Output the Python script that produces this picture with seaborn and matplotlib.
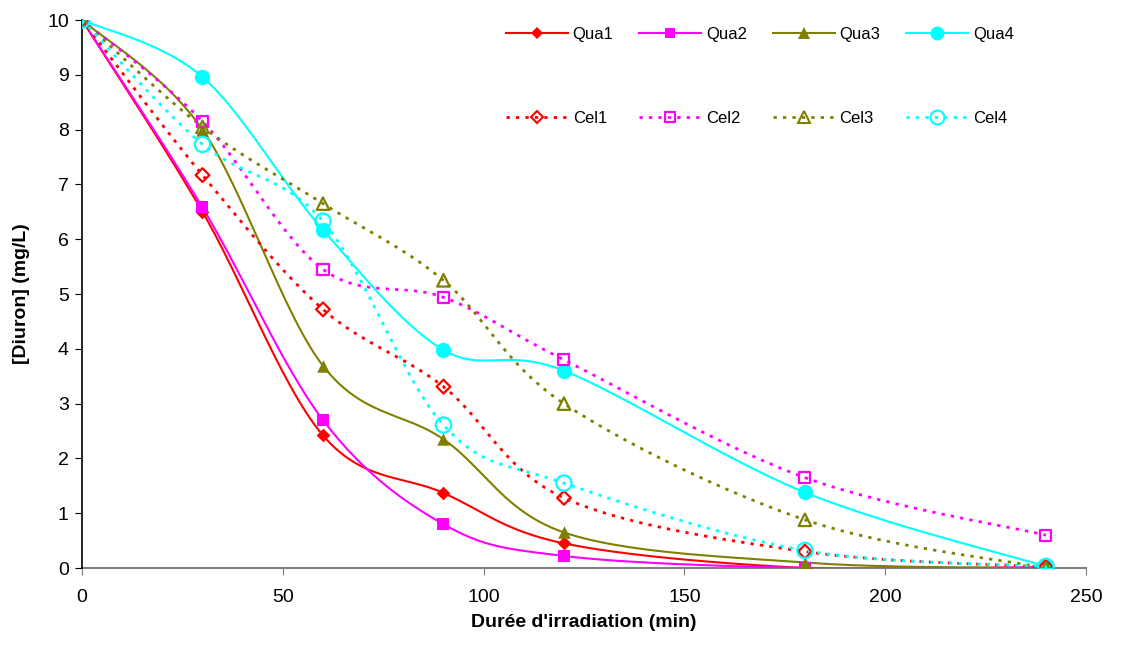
import numpy as np
import pandas as pd
import matplotlib
matplotlib.use("Agg")
import matplotlib.pyplot as plt
from matplotlib.lines import Line2D
import seaborn as sns

# irradiation times (min)
time = [0, 30, 60, 90, 120, 180, 240]

# [Diuron] (mg/L)
qua1 = [10, 6.50, 2.42, 1.37, 0.45, 0.00, 0.00]
qua2 = [10, 6.58, 2.70, 0.80, 0.22, 0.00, 0.02]
qua3 = [10, 8.00, 3.69, 2.35, 0.65, 0.10, 0.00]
qua4 = [10, 8.96, 6.17, 3.98, 3.60, 1.38, 0.03]
cel1 = [10, 7.17, 4.72, 3.31, 1.28, 0.30, 0.02]
cel2 = [10, 8.15, 5.45, 4.94, 3.80, 1.65, 0.60]
cel3 = [10, 8.05, 6.65, 5.25, 3.00, 0.88, 0.00]
cel4 = [10, 7.73, 6.33, 2.61, 1.55, 0.32, 0.03]

series = {"Qua1": qua1, "Qua2": qua2, "Qua3": qua3, "Qua4": qua4,
          "Cel1": cel1, "Cel2": cel2, "Cel3": cel3, "Cel4": cel4}

colors = {"1": "#FF0000", "2": "#FF00FF", "3": "#808000", "4": "#00FFFF"}
markers = {"1": "D", "2": "s", "3": "^", "4": "o"}
msize = {"1": 7, "2": 8, "3": 9, "4": 11}


def smooth(x, y, n=30):
    # Excel-style smoothed line: cubic Bezier through the points (Catmull-Rom)
    x = np.asarray(x, float)
    y = np.asarray(y, float)
    px = np.concatenate([[x[0]], x, [x[-1]]])
    py = np.concatenate([[y[0]], y, [y[-1]]])
    xs, ys = [], []
    t = np.linspace(0, 1, n)
    for i in range(1, len(px) - 2):
        p0 = np.array([px[i], py[i]])
        p3 = np.array([px[i + 1], py[i + 1]])
        p1 = p0 + (np.array([px[i + 1], py[i + 1]]) - np.array([px[i - 1], py[i - 1]])) / 6
        p2 = p3 - (np.array([px[i + 2], py[i + 2]]) - np.array([px[i], py[i]])) / 6
        b = ((1 - t) ** 3)[:, None] * p0 + (3 * (1 - t) ** 2 * t)[:, None] * p1 \
            + (3 * (1 - t) * t ** 2)[:, None] * p2 + (t ** 3)[:, None] * p3
        xs.extend(b[:, 0])
        ys.extend(b[:, 1])
    return xs, ys


plt.rcParams["font.family"] = ["Liberation Sans", "DejaVu Sans"]
fig, ax = plt.subplots(figsize=(11.39, 6.46), dpi=100)
fig.subplots_adjust(left=0.072, right=0.9535, top=0.969, bottom=0.1207)

handles = {}
for name, vals in series.items():
    k = name[-1]
    solid = name.startswith("Qua")
    sx, sy = smooth(time, vals)
    ls = "-" if solid else (0, (1.2, 2.2))
    lw = 1.5 if solid else 2.0
    ax.plot(sx, sy, color=colors[k], lw=lw, ls=ls, zorder=2)
    df = pd.DataFrame({"t": time, "c": vals})
    sns.scatterplot(data=df, x="t", y="c", ax=ax, marker=markers[k],
                    s=msize[k] ** 2,
                    color=colors[k] if solid else "none",
                    edgecolor=colors[k], linewidth=0 if solid else 1.6,
                    zorder=3, legend=False)
    handles[name] = Line2D([], [], color=colors[k], lw=lw, ls=ls,
                           marker=markers[k], markersize=msize[k] - 1,
                           markerfacecolor=colors[k] if solid else "none",
                           markeredgecolor=colors[k],
                           markeredgewidth=0 if solid else 1.5)

order = ["Qua1", "Cel1", "Qua2", "Cel2", "Qua3", "Cel3", "Qua4", "Cel4"]
fig.legend([handles[n] for n in order], order, ncol=4, frameon=False,
           loc="upper left", bbox_to_anchor=(506 / 1139, 1 - 27 / 646),
           fontsize=12, borderpad=0, borderaxespad=0,
           labelspacing=4.15, columnspacing=1.55, handlelength=3.7,
           handletextpad=0.3)

ax.set_xlim(0, 250)
ax.set_ylim(0, 10)
ax.set_xticks(range(0, 251, 50))
ax.set_yticks(range(0, 11))
ax.set_xlabel("Durée d'irradiation (min)", fontsize=14, fontweight="bold",
              labelpad=6)
ax.set_ylabel("[Diuron] (mg/L)", fontsize=14, fontweight="bold",
              labelpad=12)
ax.tick_params(labelsize=14, direction="out", length=5)
ax.tick_params(axis="x", pad=10, color="#808080")
ax.tick_params(axis="y", pad=4.5)
for s in ["top", "right"]:
    ax.spines[s].set_visible(False)
ax.spines["bottom"].set_color("#808080")
ax.spines["bottom"].set_linewidth(1.5)
ax.spines["left"].set_linewidth(1.2)
ax.spines["bottom"].set_zorder(1)

fig.savefig("out.png", dpi=100)
